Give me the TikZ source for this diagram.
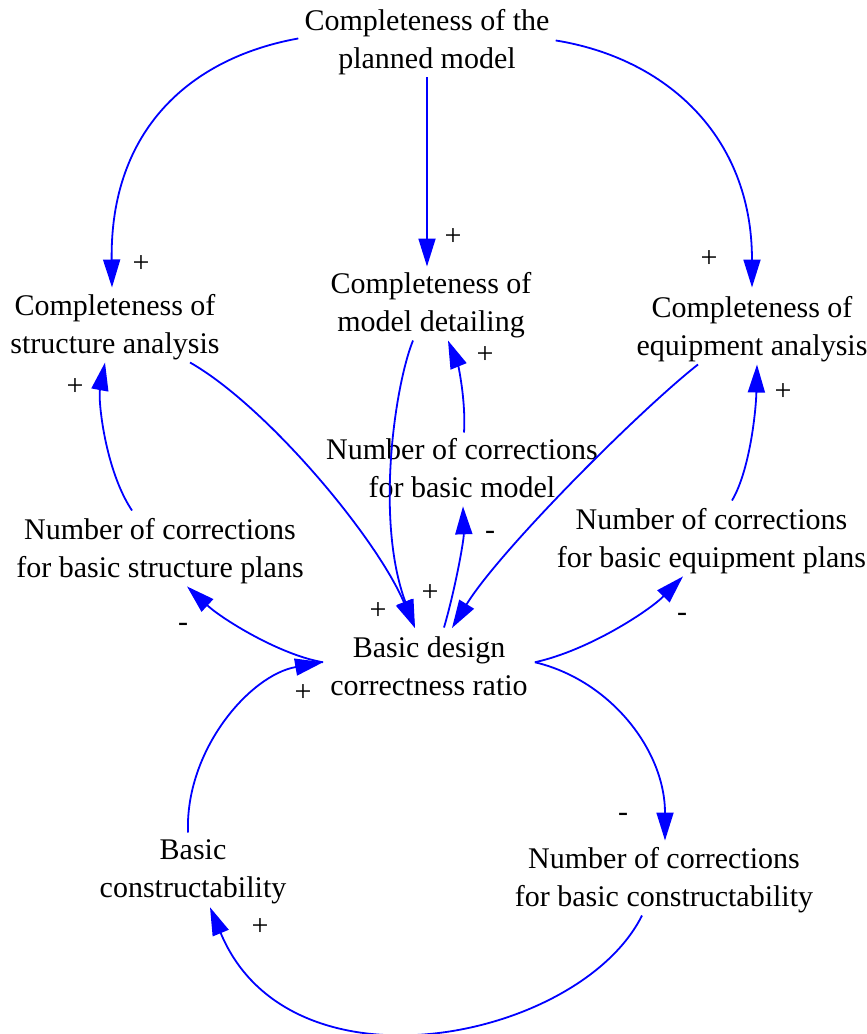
\documentclass[tikz,border=0pt]{standalone}
\usepackage{fontspec}
\setmainfont{Liberation Serif}
\usetikzlibrary{arrows.meta}
\begin{document}
\begin{tikzpicture}[x=1pt,y=-1pt,
  var/.style={anchor=north,align=center,inner sep=2pt,font=\fontsize{30}{38}\selectfont},
  sgn/.style={inner sep=0pt,font=\fontsize{30}{36}\selectfont},
  link/.style={draw=blue,line width=1.8pt,-{Triangle[length=28pt,width=17pt]}}]
\useasboundingbox (0,0) rectangle (867,1034);
% variables
\node[var] (top) at (427,7.5) {Completeness of the\\planned model};
\node[var] (csa) at (115,292.5) {Completeness of\\structure analysis};
\node[var] (cmd) at (431,270.5) {Completeness of\\model detailing};
\node[var] (cea) at (752,294.5) {Completeness of\\equipment analysis};
\node[var] (ncm) at (462,436.5) {Number of corrections\\for basic model};
\node[var] (ncs) at (160,516.5) {Number of corrections\\for basic structure plans};
\node[var] (nce) at (711.5,506.5) {Number of corrections\\for basic equipment plans};
\node[var] (bdc) at (429,634.5) {Basic design\\correctness ratio};
\node[var] (bc) at (193,837.5) {Basic\\constructability};
\node[var] (ncc) at (664,845.5) {Number of corrections\\for basic constructability};
% links
\draw[link] ([shift={(-4,-4)}]top.west) .. controls (190,58) and (110,130) .. ([shift={(-3,-5)}]csa.north);
\draw[link] (top.south) -- ([shift={(-4,-4)}]cmd.north);
\draw[link] ([shift={(4,-2)}]top.east) .. controls (665,58) and (752,135) .. ([shift={(0,-7)}]cea.north);
\draw[link] ([shift={(75,0)}]csa.south) .. controls (265,405) and (375,535) .. ([shift={(-14,-6.5)}]bdc.north);
\draw[link] ([shift={(-18,0)}]cmd.south) .. controls (395,385) and (375,520) .. ([shift={(-14,-6.5)}]bdc.north);
\draw[link] ([shift={(-54,0)}]cea.south) .. controls (640,410) and (500,550) .. ([shift={(23,-6.5)}]bdc.north);
\draw[link] ([shift={(15,-7)}]bdc.north) .. controls (455,590) and (464,540) .. ([shift={(1,6)}]ncm.south);
\draw[link] ([shift={(2,-4)}]ncm.north) .. controls (466,400) and (458,365) .. ([shift={(17,0)}]cmd.south);
\draw[link] ([shift={(-5,-4)}]bdc.west) .. controls (280,655) and (222,619) .. ([shift={(27,0)}]ncs.south);
\draw[link] ([shift={(-28,-6)}]ncs.north) .. controls (105,470) and (98,400) .. ([shift={(-10,0)}]csa.south);
\draw[link] ([shift={(5,-4)}]bdc.east) .. controls (590,650) and (650,610) .. ([shift={(-28.5,0)}]nce.south);
\draw[link] ([shift={(20.5,-6)}]nce.north) .. controls (750,470) and (756,410) .. ([shift={(5,0)}]cea.south);
\draw[link] ([shift={(-5,-5)}]bc.north) .. controls (185,750) and (250,675) .. ([shift={(-5,-4)}]bdc.west);
\draw[link] ([shift={(5,-4)}]bdc.east) .. controls (610,680) and (665,750) .. ([shift={(1,-5)}]ncc.north);
\draw[link] ([shift={(-22,0)}]ncc.south) .. controls (580,1040) and (290,1100) .. ([shift={(17,1)}]bc.south);
% polarity labels
\node[sgn] (l1) at (141,264) {+};
\node[sgn] (l2) at (453,237) {+};
\node[sgn] (l3) at (709,259) {+};
\node[sgn] (l4) at (378,611) {+};
\node[sgn] (l5) at (430,593) {+};
\node[sgn] (l6) at (490,535) {-};
\node[sgn] (l7) at (485,355) {+};
\node[sgn] (l8) at (183,627) {-};
\node[sgn] (l9) at (75,387) {+};
\node[sgn] (l10) at (682,617) {-};
\node[sgn] (l11) at (783,392) {+};
\node[sgn] (l12) at (303,693) {+};
\node[sgn] (l13) at (623,817) {-};
\node[sgn] (l14) at (260,927) {+};
\end{tikzpicture}
\end{document}
